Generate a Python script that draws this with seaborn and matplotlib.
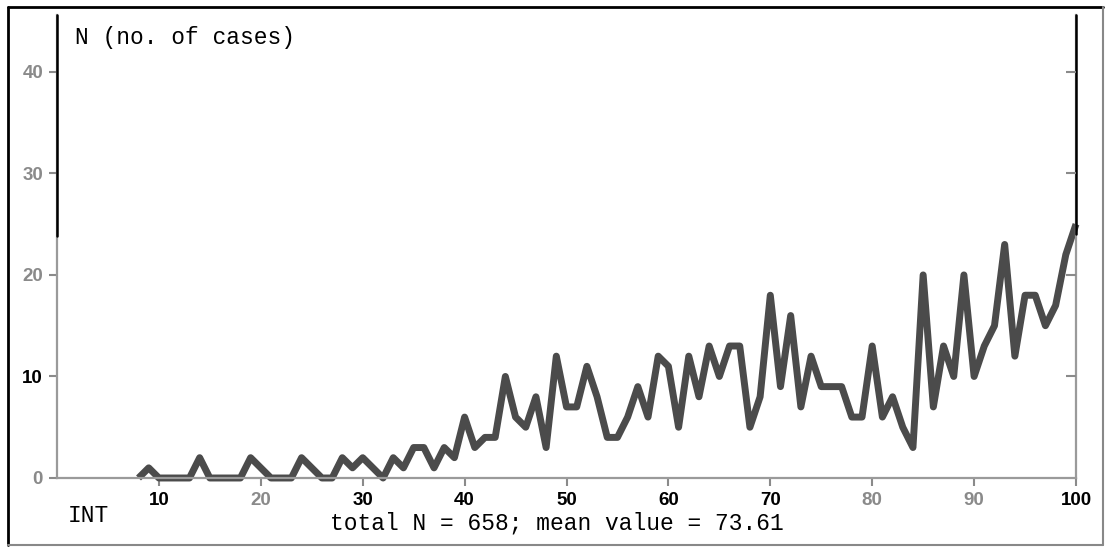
import matplotlib
matplotlib.use("Agg")
import matplotlib.pyplot as plt
import seaborn as sns
import pandas as pd
from matplotlib.lines import Line2D

# ---- data ----
int_values = list(range(8, 101))
cases = [0, 1, 0, 0, 0, 0, 2, 0, 0, 0, 0, 2, 1,          # 8-20
         0, 0, 0, 2, 1, 0, 0, 2, 1, 2,                    # 21-30
         1, 0, 2, 1, 3, 3, 1, 3, 2, 6,                    # 31-40
         3, 4, 4, 10, 6, 5, 8, 3, 12, 7,                  # 41-50
         7, 11, 8, 4, 4, 6, 9, 6, 12, 11,                 # 51-60
         5, 12, 8, 13, 10, 13, 13, 5, 8, 18,              # 61-70
         9, 16, 7, 12, 9, 9, 9, 6, 6, 13,                 # 71-80
         6, 8, 5, 3, 20, 7, 13, 10, 20, 10,               # 81-90
         13, 15, 23, 12, 18, 18, 15, 17, 22, 25]          # 91-100

x_ticks = [10, 20, 30, 40, 50, 60, 70, 80, 90, 100]
x_tick_dark = [True, False, True, True, True, True, True, False, False, True]
y_ticks = [0, 10, 20, 30, 40]
y_tick_dark = [False, True, False, False, False]

title_text = "N (no. of cases)"
xlabel_text = "INT"
summary_text = "total N = 658; mean value = 73.61"

df = pd.DataFrame({"INT": int_values, "N": cases})

sns.set_style("white")
plt.rcParams["font.family"] = ["Liberation Sans", "DejaVu Sans"]

W, H = 1105, 548
fig = plt.figure(figsize=(W / 100, H / 100), dpi=100)
fig.patch.set_facecolor("white")

L, R, T, B = 57, 1076, 15, 478
ax = fig.add_axes([L / W, (H - B) / H, (R - L) / W, (B - T) / H])
ax.set_facecolor("white")

sns.lineplot(data=df, x="INT", y="N", ax=ax, color="#4b4b4b", lw=5.0,
             solid_joinstyle="round", solid_capstyle="butt", clip_on=False)

ax.set_xlim(0, 100)
ax.set_ylim(0, 45.6)
ax.set_xlabel("")
ax.set_ylabel("")

gray = "#8a8a8a"
for s in ["left", "bottom", "right"]:
    ax.spines[s].set_visible(True)
    ax.spines[s].set_color("#9a9a9a")
    ax.spines[s].set_linewidth(1.6)
ax.spines["top"].set_visible(False)

# black upper part of the side spines
ax.plot([0, 0], [23.8, 45.6], color="black", lw=1.8, clip_on=False, zorder=5)
ax.plot([100, 100], [24.0, 45.6], color="black", lw=1.8, clip_on=False, zorder=5)

ax.set_xticks(x_ticks)
ax.set_xticklabels([str(t) for t in x_ticks])
ax.set_yticks(y_ticks)
ax.set_yticklabels([str(t) for t in y_ticks])
ax.tick_params(axis="both", direction="out", length=6, width=1.5, color=gray,
               labelsize=13.5, pad=4)
ax.tick_params(axis="y", left=True, right=False)
ax.tick_params(axis="x", bottom=True)
for lab, dark in zip(ax.get_xticklabels(), x_tick_dark):
    lab.set_color("black" if dark else gray)
    lab.set_fontweight("bold")
for lab, dark in zip(ax.get_yticklabels(), y_tick_dark):
    lab.set_color("black" if dark else gray)
    lab.set_fontweight("bold")

# inward ticks on the right side
ax2 = ax.twinx()
ax2.set_ylim(ax.get_ylim())
ax2.set_yticks(y_ticks[1:])
ax2.tick_params(axis="y", direction="in", length=7, width=1.5, color=gray,
                labelright=False, right=True)
for s in ax2.spines.values():
    s.set_visible(False)

mono = ["Liberation Mono", "DejaVu Sans Mono"]
fig.text(75 / W, 1 - 37.5 / H, title_text, family=mono, fontsize=16.5,
         ha="left", va="center", color="black")
fig.text(68 / W, 1 - 515 / H, xlabel_text, family=mono, fontsize=16.5,
         ha="left", va="center", color="black")
fig.text(557 / W, 1 - 523 / H, summary_text, family=mono, fontsize=16.5,
         ha="center", va="center", color="black")

# outer frame of the figure
def fl(x0, y0, x1, y1, c, lw):
    fig.add_artist(Line2D([x0 / W, x1 / W], [1 - y0 / H, 1 - y1 / H],
                          transform=fig.transFigure, color=c, lw=lw))

fl(8, 7, 1103, 7, "black", 2.0)
fl(8, 7, 8, 545, "black", 2.0)
fl(1103, 7, 1103, 545, "#888888", 1.5)
fl(8, 545, 1103, 545, "#888888", 1.5)

fig.savefig("out.png", dpi=100, facecolor="white")
